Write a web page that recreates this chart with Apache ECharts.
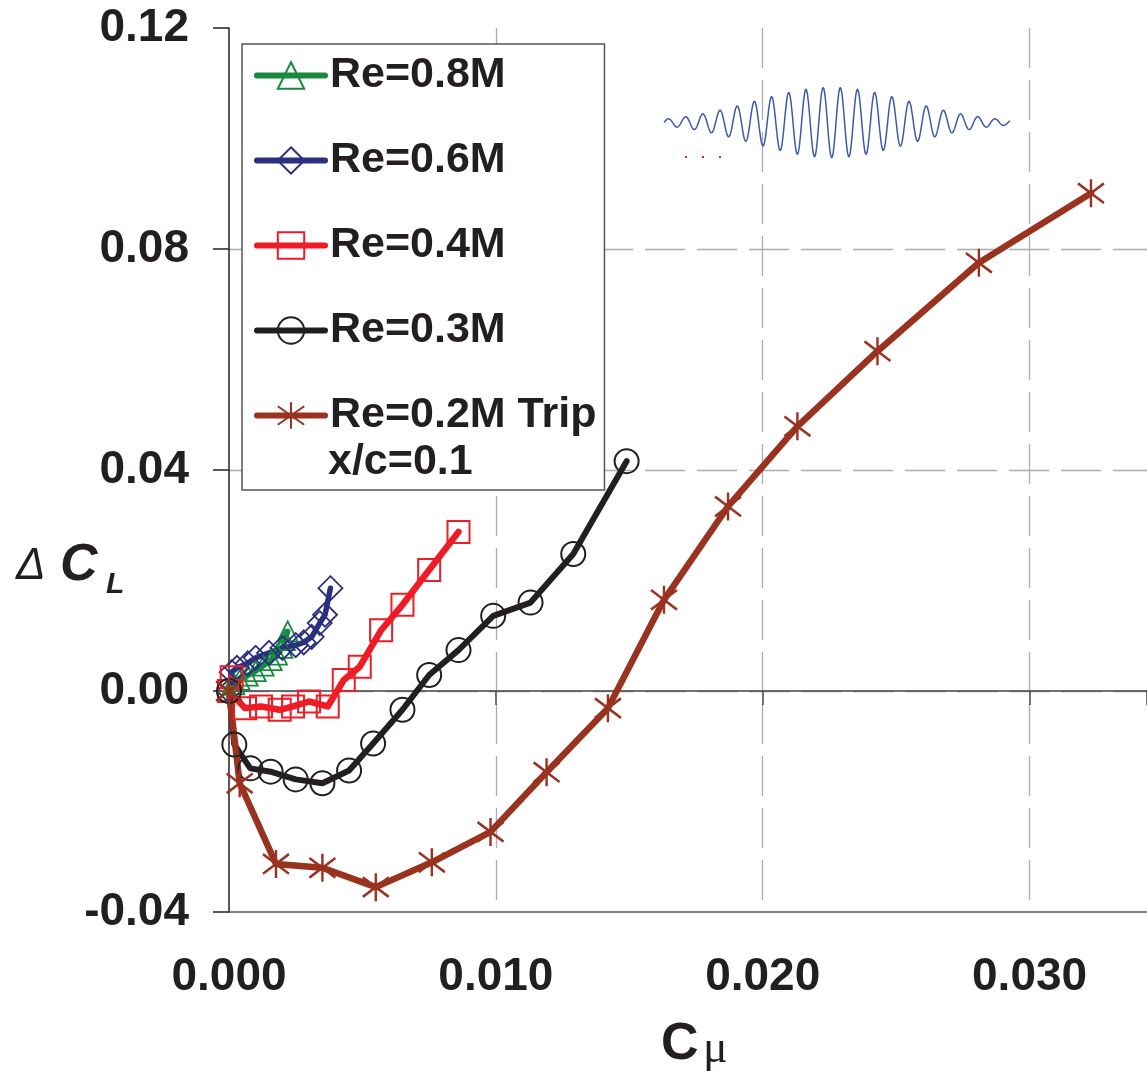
<!DOCTYPE html>
<html><head><meta charset="utf-8">
<script src="https://cdn.jsdelivr.net/npm/echarts@6/dist/echarts.min.js"></script>
<style>html,body{margin:0;padding:0;background:#fff}#c{width:1147px;height:1071px}</style>
</head><body><div id="c"></div>
<script>
// ---- tick labels ----
const xTicks = [0, 0.01, 0.02, 0.03];
const xTickLabels = ['0.000', '0.010', '0.020', '0.030'];
const yTicks = [-0.04, 0, 0.04, 0.08, 0.12];
const yTickLabels = ['-0.04', '0.00', '0.04', '0.08', '0.12'];

// ---- series names ----
const seriesNames = ['Re=0.8M', 'Re=0.6M', 'Re=0.4M', 'Re=0.3M', 'Re=0.2M Trip'];
const tripNote = 'x/c=0.1';

// ---- data (Cmu, delta CL) ----
const re08X = [0, 0.0002, 0.0004, 0.0007, 0.0010, 0.0013, 0.0016, 0.0018, 0.0020, 0.0021, 0.0022];
const re08Y = [0, 0.0012, 0.0020, 0.0028, 0.0036, 0.0046, 0.0056, 0.0066, 0.0078, 0.0092, 0.0108];

const re06X = [0, 0.0001, 0.0003, 0.0007, 0.0010, 0.0015, 0.0020, 0.0025, 0.0028, 0.0031, 0.0034, 0.0036, 0.0038];
const re06Y = [0, 0.0034, 0.0042, 0.0050, 0.0060, 0.0069, 0.0078, 0.0083, 0.0088, 0.0098, 0.0123, 0.0138, 0.0186];

const re04X = [0.0001, 0, 0.0006, 0.0012, 0.0019, 0.0024, 0.0030, 0.0037, 0.0043, 0.0049, 0.0057, 0.0065, 0.0075, 0.0086];
const re04Y = [0.0025, 0, -0.0031, -0.0028, -0.0034, -0.0028, -0.0019, -0.0028, 0.0020, 0.0044, 0.0110, 0.0156, 0.0219, 0.0288];

const re03X = [0, 0.0002, 0.0008, 0.00156, 0.0025, 0.0035, 0.0045, 0.0054, 0.0065, 0.0075, 0.0086, 0.0099, 0.0113, 0.0129, 0.0149];
const re03Y = [0, -0.0097, -0.0140, -0.0146, -0.0160, -0.0167, -0.0144, -0.0095, -0.0034, 0.0029, 0.0074, 0.0136, 0.0160, 0.0248, 0.0416];

const re02X = [0, 0.0004, 0.00176, 0.0035, 0.0055, 0.0076, 0.0098, 0.0119, 0.0142, 0.0163, 0.0187, 0.0213, 0.0243, 0.0281, 0.0323];
const re02Y = [0, -0.0167, -0.0313, -0.0320, -0.0355, -0.0310, -0.0255, -0.0147, -0.0031, 0.0165, 0.0334, 0.0479, 0.0615, 0.0775, 0.0901];

// ---- build ----
const FONT = '"Liberation Sans", Arial, sans-serif';
const TXT = '#231f20';
const ASTERISK = 'path://M0,-10L0,10M-8,-7L8,7M-8,7L8,-7';

function pairs(xs, ys) { return xs.map((x, i) => [x, ys[i]]); }
function mk(name, xs, ys, color, symbol, size, lw, bw, z) {
  return {
    name: name, type: 'line', data: pairs(xs, ys),
    symbol: symbol, symbolSize: size,
    lineStyle: { color: color, width: lw, cap: 'round', join: 'round' },
    itemStyle: { color: 'none', borderColor: color, borderWidth: bw },
    z: z, clip: false, animation: false,
    emphasis: { disabled: true }
  };
}
function lookup(ticks, labels) {
  return function (v) {
    const i = ticks.findIndex(t => Math.abs(t - v) < 1e-7);
    return i >= 0 ? labels[i] : '';
  };
}

// decorative wave-packet inset (illustration, not data)
function wavePoints() {
  const pts = [];
  for (let x = 664; x <= 1010; x += 0.5) {
    const d = x - 831.7;
    const a = 35 * Math.exp(-0.5 * (d / 77) * (d / 77));
    pts.push([x, 122.5 + a * Math.cos(2 * Math.PI * d / 17.2)]);
  }
  return pts;
}

const chart = echarts.init(document.getElementById('c'), null, { renderer: 'canvas' });
const gridDash = { color: '#ababab', width: 1.3, type: [40, 12] };

chart.setOption({
  backgroundColor: '#fff',
  animation: false,
  grid: { left: 229, top: 28, right: 0, bottom: 159, containLabel: false },
  xAxis: [{
    type: 'value', min: 0, max: 0.0344, interval: 0.01,
    axisLine: { onZero: false, lineStyle: { color: '#555', width: 1.5 } },
    axisTick: { show: false },
    axisLabel: { formatter: lookup(xTicks, xTickLabels), showMaxLabel: false, margin: 42,
      fontFamily: FONT, fontWeight: 'bold', fontSize: 46, color: TXT },
    splitLine: { show: true, showMinLine: false, showMaxLine: false, lineStyle: gridDash }
  }, {
    type: 'value', min: 0, max: 0.0344, interval: 0.01, position: 'top',
    axisLine: { show: true, onZero: true, lineStyle: { color: '#444', width: 1.5 } },
    axisTick: { show: true, inside: true, length: 14, lineStyle: { color: '#444', width: 1.5 } },
    axisLabel: { show: false },
    splitLine: { show: false }
  }],
  yAxis: {
    type: 'value', min: -0.04, max: 0.12, interval: 0.04,
    axisLine: { show: true, onZero: false, lineStyle: { color: '#222', width: 1.5 } },
    axisTick: { show: true, length: 16, lineStyle: { color: '#222', width: 1.5 } },
    axisLabel: { formatter: lookup(yTicks, yTickLabels), margin: 40,
      fontFamily: FONT, fontWeight: 'bold', fontSize: 46, color: TXT },
    splitLine: { show: true, showMinLine: false, showMaxLine: false, lineStyle: gridDash }
  },
  legend: {
    orient: 'vertical', left: 242, top: 44,
    padding: [10, 8, 53, 12], itemGap: 42, itemWidth: 68, itemHeight: 33,
    backgroundColor: '#fff', borderColor: '#555', borderWidth: 1.5, borderRadius: 0,
    selectedMode: false,
    textStyle: { fontFamily: FONT, fontWeight: 'bold', fontSize: 43, color: TXT, lineHeight: 40 },
    lineStyle: { width: 6, cap: 'round' },
    itemStyle: { borderWidth: 2 },
    data: seriesNames
  },
  series: [
    mk(seriesNames[0], re08X, re08Y, '#178a3f', 'triangle', 20, 5.5, 1.8, 3),
    mk(seriesNames[1], re06X, re06Y, '#2b2f7e', 'diamond', 24, 5.5, 1.8, 3),
    mk(seriesNames[2], re04X, re04Y, '#ee1c25', 'rect', 22, 6.5, 2, 3),
    mk(seriesNames[3], re03X, re03Y, '#231f20', 'circle', 24, 6, 2, 3),
    mk(seriesNames[4], re02X, re02Y, '#9a3220', ASTERISK, [26, 28], 6.5, 2.5, 3)
  ],
  graphic: [
    { type: 'text', z: 10, x: 328, y: 462,
      style: { text: tripNote, font: 'bold 43px ' + FONT, fill: TXT, align: 'left', verticalAlign: 'middle' } },
    { type: 'polyline', z: 5, shape: { points: wavePoints() },
      style: { stroke: '#3a5ba8', lineWidth: 1.5, fill: null } },
    { type: 'rect', z: 5, shape: { x: 685, y: 156, width: 2, height: 2 }, style: { fill: '#ee1c25' } },
    { type: 'rect', z: 5, shape: { x: 702, y: 156, width: 2, height: 2 }, style: { fill: '#ee1c25' } },
    { type: 'rect', z: 5, shape: { x: 719, y: 156, width: 2, height: 2 }, style: { fill: '#ee1c25' } },
    // y axis title: ΔC_L
    { type: 'text', z: 10, x: 16, y: 567,
      style: { text: 'Δ', font: 'italic 44px ' + FONT, fill: TXT, align: 'left', verticalAlign: 'middle' } },
    { type: 'text', z: 10, x: 60, y: 566,
      style: { text: 'C', font: 'italic bold 52px ' + FONT, fill: TXT, align: 'left', verticalAlign: 'middle' } },
    { type: 'text', z: 10, x: 106, y: 585,
      style: { text: 'L', font: 'italic bold 30px ' + FONT, fill: TXT, align: 'left', verticalAlign: 'middle' } },
    // x axis title: Cμ
    { type: 'text', z: 10, x: 661, y: 1045,
      style: { text: 'C', font: 'bold 52px ' + FONT, fill: TXT, align: 'left', verticalAlign: 'middle' } },
    { type: 'text', z: 10, x: 703, y: 1050,
      style: { text: 'μ', font: '46px "Liberation Serif", serif', fill: TXT, align: 'left', verticalAlign: 'middle' } }
  ]
});
</script>
</body></html>
